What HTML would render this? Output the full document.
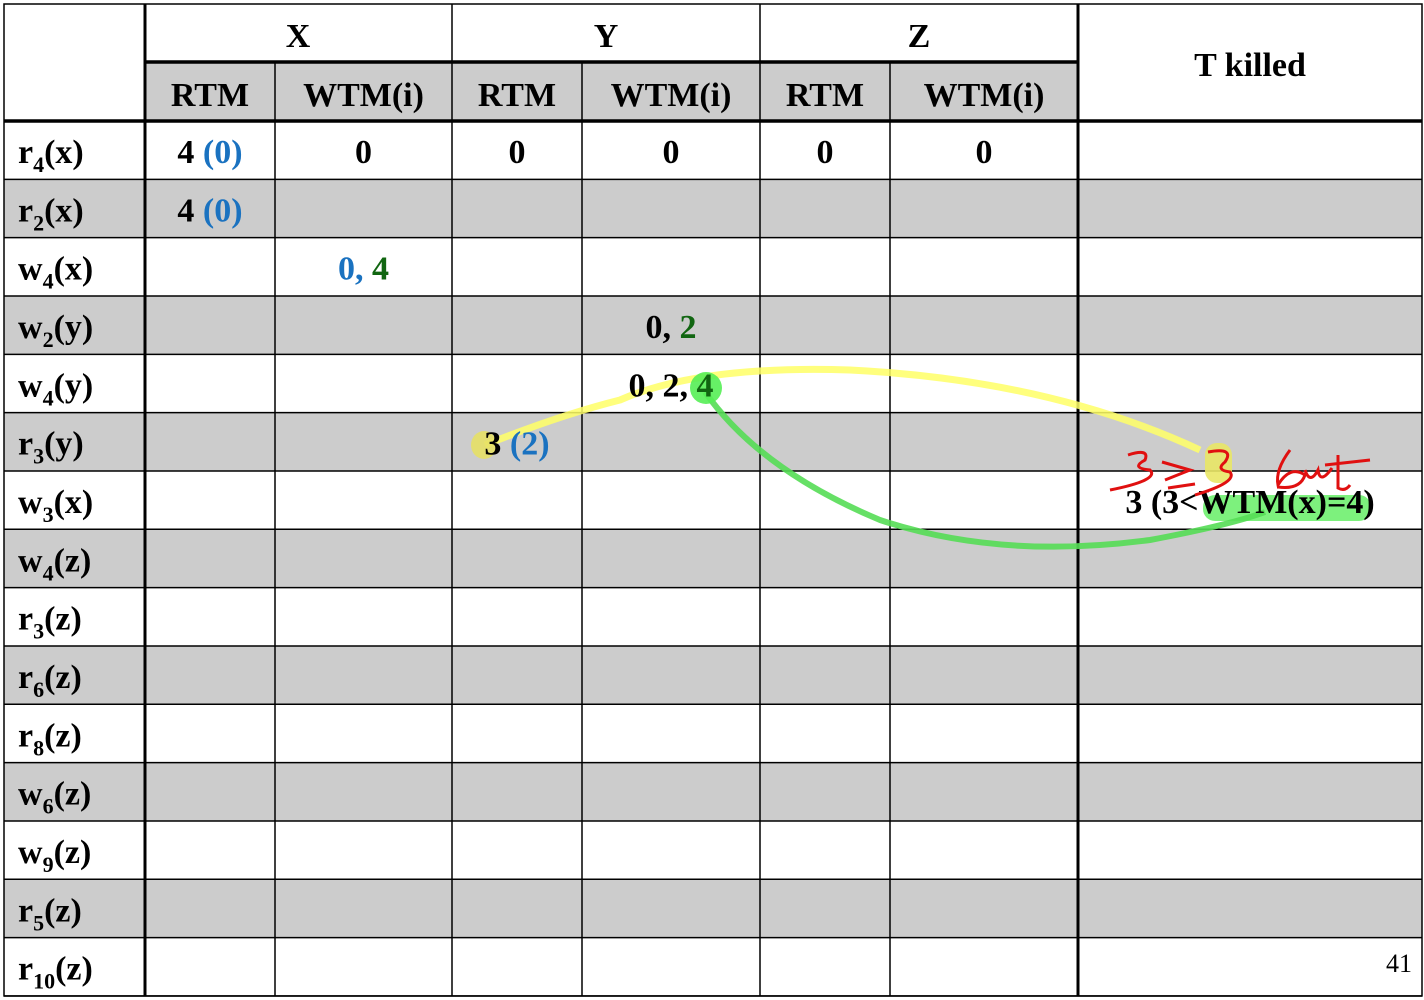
<!DOCTYPE html>
<html><head><meta charset="utf-8"><style>
html,body{margin:0;padding:0;background:#fff;}
svg{display:block;font-family:"Liberation Serif",serif;}
.b{font-weight:bold;font-size:34px;}
</style></head><body>
<svg width="1424" height="1000" viewBox="0 0 1424 1000">
<g id="bg"></g>
<g id="grid" stroke="#000" stroke-width="1.5"></g>
<g>
  <rect x="1203" y="495" width="168" height="26" rx="12" fill="#66ee66" opacity="0.85"/>
  <path d="M485 445 Q560 415 620 400 Q700 365 850 370 Q1050 380 1200 450" fill="none" stroke="#ffff66" stroke-width="7" opacity="0.85"/>
  <ellipse cx="484" cy="445" rx="13" ry="14" fill="#e5e066" opacity="0.9"/>
  <rect x="1205" y="443" width="27" height="40" rx="12" fill="#e9e766" opacity="0.9"/>
  <path d="M705 392 Q760 470 880 520 Q1000 560 1150 540 Q1230 525 1265 512" fill="none" stroke="#55dd55" stroke-width="6" opacity="0.9"/>
  <circle cx="706" cy="388" r="16" fill="#55ee55" opacity="0.9"/>
</g>
<g id="txt"></g>
<g fill="none" stroke="#e01010" stroke-width="3">
  <path d="M1128 455 Q1150 448 1145 460 Q1130 468 1150 470 Q1160 480 1110 490"/>
  <path d="M1162 462 L1190 470 L1165 480 M1168 488 L1195 484"/>
  <path d="M1208 452 Q1235 447 1225 462 Q1215 470 1230 472 Q1238 482 1195 495"/>
  <path d="M1290 450 Q1275 470 1278 485 Q1290 465 1305 475 Q1300 490 1278 487 M1305 470 Q1310 485 1318 470 Q1320 485 1332 468 M1338 455 L1338 488 Q1345 492 1350 485 M1325 465 L1370 460"/>
</g>
<text x="1412" y="972" font-size="26" text-anchor="end">41</text>
</svg>
<script>
const rowLabels=[["r","4","x"],["r","2","x"],["w","4","x"],["w","2","y"],["w","4","y"],["r","3","y"],["w","3","x"],["w","4","z"],["r","3","z"],["r","6","z"],["r","8","z"],["w","6","z"],["w","9","z"],["r","5","z"],["r","10","z"]];
const colX=[4,145,275,452,582,760,890,1078,1422];
const top0=4,mid=62,hb=121,rowH=58.33;
const NS="http://www.w3.org/2000/svg";
const bg=document.getElementById('bg'),grid=document.getElementById('grid'),txt=document.getElementById('txt');
function mk(tag,at,parent){const e=document.createElementNS(NS,tag);for(const k in at)e.setAttribute(k,at[k]);parent.appendChild(e);return e;}
const hg=mk('rect',{x:145,y:mid,width:933,height:hb-mid,fill:'#cccccc'},bg);


rowLabels.forEach((r,i)=>{if(i%2===1){const e=mk('rect',{x:4,y:hb+i*rowH,width:1418,height:rowH,fill:'#cccccc'},bg);

}});
const bottom=hb+15*rowH;
mk('rect',{x:4,y:top0,width:1418,height:bottom-top0,fill:'none'},grid);
for(let i=1;i<=15;i++)mk('line',{x1:4,x2:1422,y1:hb+i*rowH,y2:hb+i*rowH},grid);
mk('line',{x1:4,x2:1422,y1:hb,y2:hb,'stroke-width':3.5},grid);
mk('line',{x1:145,x2:1078,y1:mid,y2:mid,'stroke-width':3.5},grid);
mk('line',{x1:145,x2:145,y1:top0,y2:bottom,'stroke-width':3},grid);
mk('line',{x1:1078,x2:1078,y1:top0,y2:bottom,'stroke-width':3},grid);
[275,582,890].forEach(x=>mk('line',{x1:x,x2:x,y1:mid,y2:bottom},grid));
[452,760].forEach(x=>mk('line',{x1:x,x2:x,y1:top0,y2:bottom},grid));
function T(x,y,parts,name,anchor){const t=mk('text',{x:x,y:y,class:'b','text-anchor':anchor||'middle'},txt);


parts.forEach(p=>{const s=mk('tspan',{fill:p[1]||'#000'},t);s.textContent=p[0];});return t;}
T(298,47,[["X"]],'group-x-header');T(606,47,[["Y"]],'group-y-header');T(919,47,[["Z"]],'group-z-header');
T(1250,76,[["T killed"]],'t-killed-header');
const subs=["RTM","WTM(i)","RTM","WTM(i)","RTM","WTM(i)"];
subs.forEach((s,i)=>T((colX[i+1]+colX[i+2])/2,106,[[s]],'subheader-'+s.toLowerCase().replace(/[()]/g,'')));
rowLabels.forEach((r,i)=>{const y=hb+i*rowH+42;
const t=mk('text',{x:18,y:y,class:'b'},txt);


const a=mk('tspan',{},t);a.textContent=r[0];
const b=mk('tspan',{dy:9,'font-size':22},t);b.textContent=r[1];
const c=mk('tspan',{dy:-9},t);c.textContent='('+r[2]+')';});
const B='#1a72c0',G='#116611';
const cells=[[0,0,[["4 "],["(0)",B]]],[0,1,[["0"]]],[0,2,[["0"]]],[0,3,[["0"]]],[0,4,[["0"]]],[0,5,[["0"]]],
[1,0,[["4 "],["(0)",B]]],[2,1,[["0, ",B],["4",G]]],[3,3,[["0, "],["2",G]]],[4,3,[["0, 2, "],["4",G]]],[5,2,[["3 "],["(2)",B]]]];
cells.forEach(c=>T((colX[c[1]+1]+colX[c[1]+2])/2,hb+c[0]*rowH+42,c[2],'cell-value'));
T(1250,hb+6*rowH+42,[["3 (3<WTM(x)=4)"]],'t-killed-note').setAttribute('font-size','32');
</script>
</body></html>
